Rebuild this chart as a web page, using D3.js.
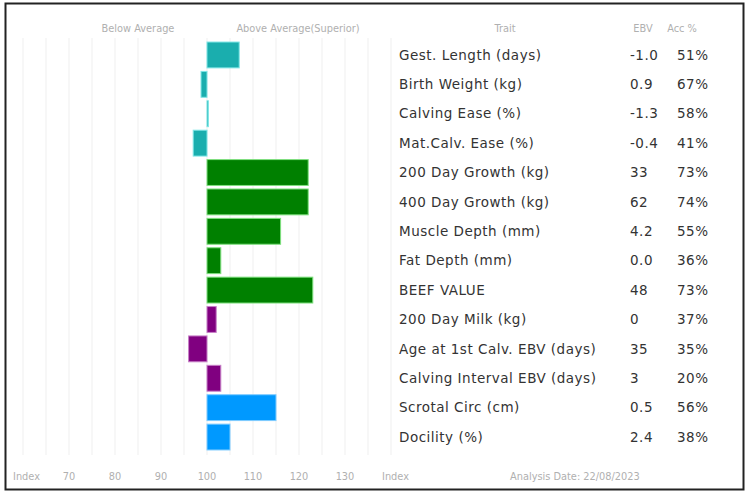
<!DOCTYPE html>
<html><head><meta charset="utf-8">
<script src="https://cdn.jsdelivr.net/npm/d3@7"></script>
<style>body{margin:0;background:#fff}svg{display:block}</style>
</head><body>
<script>
const traits = ["Gest. Length (days)","Birth Weight (kg)","Calving Ease (%)","Mat.Calv. Ease (%)","200 Day Growth (kg)","400 Day Growth (kg)","Muscle Depth (mm)","Fat Depth (mm)","BEEF VALUE","200 Day Milk (kg)","Age at 1st Calv. EBV (days)","Calving Interval EBV (days)","Scrotal Circ (cm)","Docility (%)"];
const ebv = ["-1.0","0.9","-1.3","-0.4","33","62","4.2","0.0","48","0","35","3","0.5","2.4"];
const acc = ["51%","67%","58%","41%","73%","74%","55%","36%","73%","37%","35%","20%","56%","38%"];
const indexValues = [107,98.7,100.3,97,122,122,116,103,123,102,96,103,115,105];
const groups = ["calving","calving","calving","calving","growth","growth","growth","growth","growth","maternal","maternal","maternal","fertility","fertility"];
const tickLabels = [70,80,90,100,110,120,130];
const gridValues = d3.range(60,141,5);

const W=747,H=493;
const svg=d3.select("body").append("svg").attr("width",W).attr("height",H);
const font="DejaVu Sans, sans-serif";

svg.append("rect").attr("x",5.5).attr("y",3.5).attr("width",738).attr("height",486)
  .attr("fill","none").attr("stroke","#222").attr("stroke-width",2);

const x=d3.scaleLinear().domain([60,140]).range([23,391]);
const y=d3.scaleBand().domain(traits).range([38.5,453.5]).padding(0.12);
const fill=d3.scaleOrdinal().domain(["calving","growth","maternal","fertility"]).range(["#1aaeae","#008000","#800080","#0099ff"]);
const stroke=d3.scaleOrdinal().domain(["calving","growth","maternal","fertility"]).range(["#7fe6e6","#7ee07e","#c77fc7","#80ccff"]);

svg.append("g").selectAll("line").data(gridValues).join("line")
  .attr("x1",d=>x(d)).attr("x2",d=>x(d)).attr("y1",38).attr("y2",455)
  .attr("stroke","#efefef").attr("stroke-width",1);

svg.append("g").selectAll("rect").data(traits).join("rect")
  .attr("x",(d,i)=>x(Math.min(100,indexValues[i])))
  .attr("width",(d,i)=>Math.max(1,Math.abs(x(indexValues[i])-x(100))))
  .attr("y",d=>y(d)).attr("height",y.bandwidth())
  .attr("fill",(d,i)=>fill(groups[i])).attr("stroke",(d,i)=>stroke(groups[i])).attr("stroke-width",1);

const hdr=svg.append("g").attr("font-family",font).attr("font-size",9.8).attr("fill","#b0b0b0");
hdr.append("text").attr("x",138).attr("y",32).attr("text-anchor","middle").text("Below Average");
hdr.append("text").attr("x",298).attr("y",32).attr("text-anchor","middle").text("Above Average(Superior)");
hdr.append("text").attr("x",505).attr("y",32).attr("text-anchor","middle").text("Trait");
hdr.append("text").attr("x",643).attr("y",32).attr("text-anchor","middle").text("EBV");
hdr.append("text").attr("x",682).attr("y",32).attr("text-anchor","middle").text("Acc %");

const rows=svg.append("g").attr("font-family",font).attr("font-size",13.5).attr("letter-spacing","0.5px").attr("fill","#333");
rows.selectAll("text.t").data(traits).join("text").attr("class","t")
  .attr("x",399).attr("y",d=>y(d)+y.bandwidth()/2).attr("dy","0.35em").text(d=>d);
rows.selectAll("text.e").data(traits).join("text").attr("class","e")
  .attr("x",630).attr("y",d=>y(d)+y.bandwidth()/2).attr("dy","0.35em").text((d,i)=>ebv[i]);
rows.selectAll("text.a").data(traits).join("text").attr("class","a")
  .attr("x",677).attr("y",d=>y(d)+y.bandwidth()/2).attr("dy","0.35em").text((d,i)=>acc[i]);

const ft=svg.append("g").attr("font-family",font).attr("font-size",9.8).attr("fill","#b0b0b0");
ft.selectAll("text.k").data(tickLabels).join("text").attr("class","k")
  .attr("x",d=>x(d)).attr("y",480).attr("text-anchor","middle").text(d=>d);
ft.append("text").attr("x",13).attr("y",480).text("Index");
ft.append("text").attr("x",382).attr("y",480).text("Index");
ft.append("text").attr("x",510).attr("y",480).text("Analysis Date: 22/08/2023");
</script>
</body></html>
